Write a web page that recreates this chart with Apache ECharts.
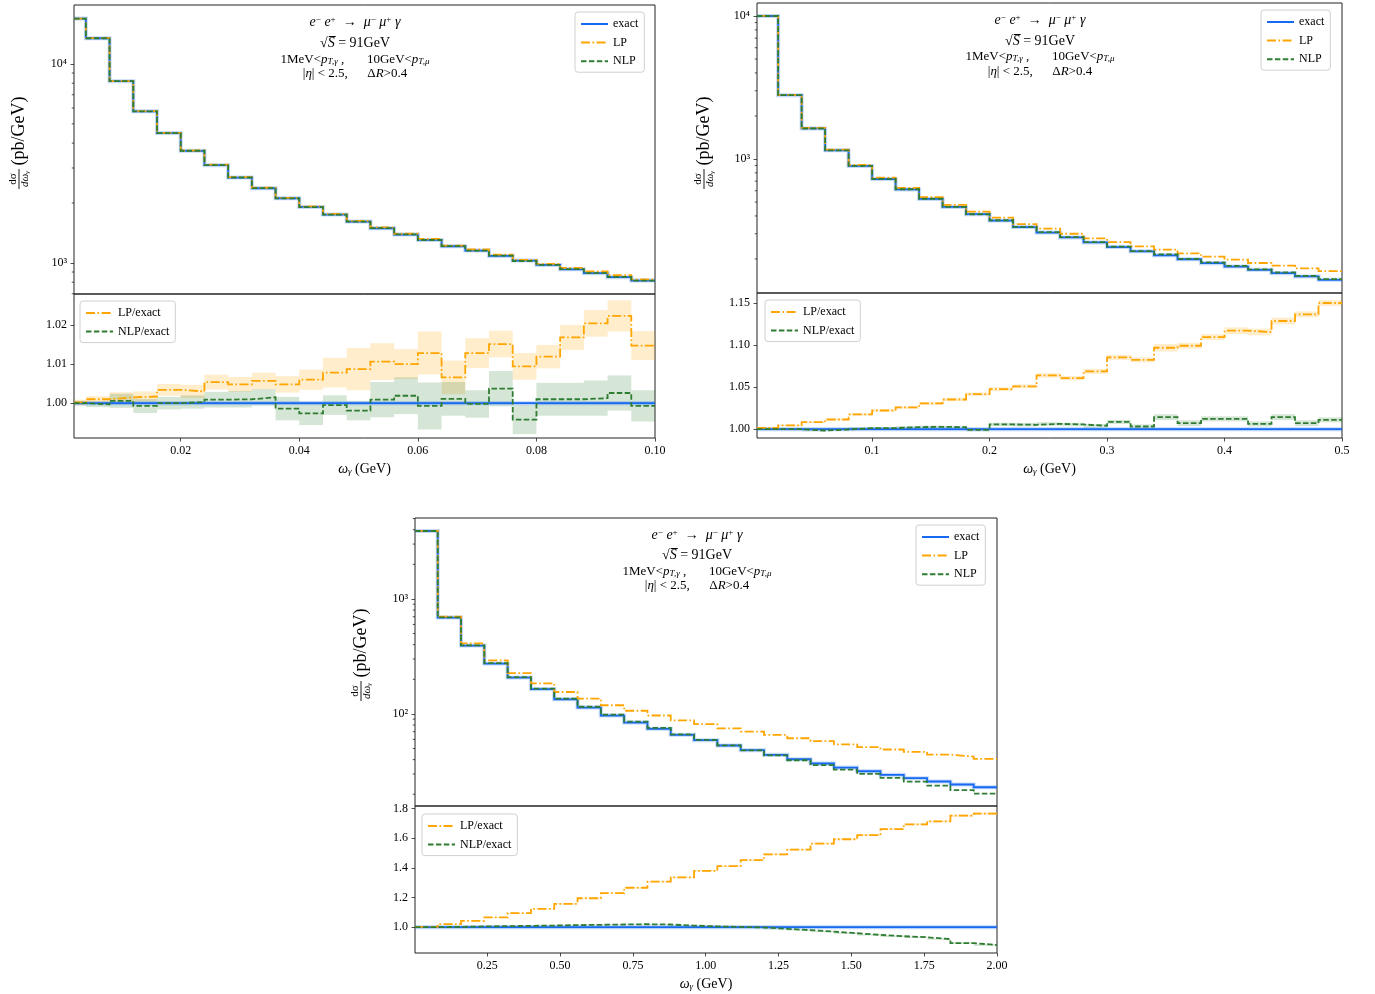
<!DOCTYPE html>
<html><head><meta charset="utf-8">
<script src="https://cdn.jsdelivr.net/npm/echarts@6/dist/echarts.min.js"></script>
<style>html,body{margin:0;padding:0;background:#fff}#c{width:1375px;height:994px}</style>
</head><body><div id="c"></div>
<script>
// ---------------- DATA ----------------
const edges1 = [0.002,0.004,0.008,0.012,0.016,0.02,0.024,0.028,0.032,0.036,0.04,0.044,0.048,0.052,0.056,0.06,0.064,0.068,0.072,0.076,0.08,0.084,0.088,0.092,0.096,0.1];
const edges2 = [0.002,0.02,0.04,0.06,0.08,0.1,0.12,0.14,0.16,0.18,0.2,0.22,0.24,0.26,0.28,0.3,0.32,0.34,0.36,0.38,0.4,0.42,0.44,0.46,0.48,0.5];
const edges3 = [0.002,0.08,0.16,0.24,0.32,0.4,0.48,0.56,0.64,0.72,0.8,0.88,0.96,1.04,1.12,1.2,1.28,1.36,1.44,1.52,1.6,1.68,1.76,1.84,1.92,2.0];

const p1Exact = [16900,13460,8190,5780,4490,3660,3100,2684,2373,2113,1911,1749,1614,1494,1388,1305,1213,1153,1084,1027,977,929,888,848,815];
const p1LPRatio = [1.0002,1.001,1.0015,1.0017,1.0034,1.003,1.0054,1.0048,1.0057,1.0048,1.006,1.0078,1.0087,1.0106,1.010,1.0128,1.0066,1.0128,1.0151,1.0094,1.0119,1.0168,1.0204,1.0223,1.0147];
const p1NLPRatio = [1.0,0.9997,1.0006,0.9993,1.0,1.0003,1.0009,1.001,1.0015,0.9986,0.9974,0.9995,0.9981,1.0009,1.0019,0.9993,1.0011,0.9998,1.0037,0.9958,1.001,1.001,1.0013,1.0026,0.9993];
const p1LPErr = [0.0007,0.0008,0.0013,0.0013,0.0015,0.0017,0.0019,0.0019,0.0021,0.0021,0.0026,0.0038,0.0054,0.0047,0.0038,0.0055,0.0043,0.0038,0.0034,0.0034,0.0030,0.0032,0.0034,0.0040,0.0037];
const p1NLPErr = [0.0006,0.0007,0.0018,0.0018,0.0016,0.0017,0.0020,0.0021,0.0021,0.0030,0.0030,0.0025,0.0025,0.0045,0.0047,0.0060,0.0043,0.0035,0.0045,0.0037,0.0042,0.0042,0.0045,0.0045,0.0040];

const p2Exact = [10000,2796,1637,1150,894,725,613,526,462,411,371,334,306,283,261,242,226,212,199,187,177,168,159,151,143];
const p2LPRatio = [1.0016,1.0044,1.0083,1.0115,1.0175,1.0222,1.0258,1.0306,1.0353,1.0417,1.0476,1.0508,1.0639,1.0607,1.0687,1.0853,1.0825,1.0968,1.0992,1.1095,1.1171,1.1155,1.1286,1.1365,1.15];
const p2NLPRatio = [1.0,1.0,0.9984,0.9996,1.0012,1.0012,1.0024,1.0028,1.0024,0.9992,1.0056,1.0052,1.0063,1.0056,1.004,1.0087,1.0032,1.0143,1.0071,1.0123,1.0123,1.0063,1.0143,1.0071,1.0111];
const p2LPErr = [0.0008,0.001,0.001,0.0012,0.0014,0.0015,0.0016,0.0018,0.002,0.002,0.0022,0.0024,0.0026,0.0026,0.003,0.003,0.003,0.0045,0.0035,0.0035,0.004,0.004,0.004,0.0035,0.0035];
const p2NLPErr = [0.0008,0.001,0.001,0.001,0.0012,0.0013,0.0014,0.0015,0.0016,0.0018,0.002,0.002,0.002,0.002,0.0022,0.0024,0.0025,0.0035,0.0035,0.003,0.003,0.003,0.0035,0.0035,0.003];

const p3Exact = [3900,689,393,274,207,164,134,113.5,96.7,84.1,74.1,65.7,59.1,53.1,48.3,44.0,40.3,37.0,34.1,31.7,29.5,27.6,25.8,24.3,23.0];
const p3LPRatio = [1.002,1.020,1.043,1.066,1.095,1.123,1.157,1.195,1.230,1.266,1.307,1.336,1.380,1.411,1.452,1.491,1.523,1.564,1.593,1.620,1.661,1.693,1.714,1.752,1.766];
const p3NLPRatio = [1.0,1.002,1.005,1.007,1.009,1.011,1.014,1.016,1.018,1.020,1.018,1.011,1.005,1.002,0.998,0.989,0.980,0.970,0.959,0.948,0.939,0.932,0.920,0.893,0.880];
const p3LPErr = [0.001,0.002,0.002,0.003,0.003,0.003,0.004,0.004,0.004,0.004,0.005,0.005,0.005,0.005,0.006,0.006,0.006,0.006,0.006,0.007,0.007,0.007,0.007,0.008,0.008];
const p3NLPErr = [0.001,0.001,0.002,0.002,0.002,0.002,0.003,0.003,0.003,0.003,0.003,0.003,0.004,0.004,0.004,0.004,0.004,0.004,0.005,0.005,0.005,0.005,0.005,0.006,0.006];

// axis ranges and tick values
const p1TopRange = [698, 19770],  p1RatioRange = [0.9911, 1.0279];
const p2TopRange = [115.6, 12330], p2RatioRange = [0.9895, 1.1619];
const p3TopRange = [15.8, 5060],  p3RatioRange = [0.826, 1.817];
const p1XTicks = [0.02,0.04,0.06,0.08,0.10];
const p2XTicks = [0.1,0.2,0.3,0.4,0.5];
const p3XTicks = [0.25,0.5,0.75,1.0,1.25,1.5,1.75,2.0];
const p1RTicks = [1.00,1.01,1.02];
const p2RTicks = [1.00,1.05,1.10,1.15];
const p3RTicks = [1.0,1.2,1.4,1.6,1.8];
const p1Minor = [700,800,900,2000,3000,4000,5000,6000,7000,8000,9000];
const p2Minor = [200,300,400,500,600,700,800,900,2000,3000,4000,5000,6000,7000,8000,9000];
const p3Minor = [20,30,40,50,60,70,80,90,200,300,400,500,600,700,800,900,2000,3000,4000,5000];

// ---------------- STYLE / LAYOUT ----------------
const FONT = '"Liberation Serif", "DejaVu Serif", serif';
const C_EX = '#1669f0', C_LP = '#ffa500', C_NLP = '#2e7d32';
const DASHDOT = [9, 2.5, 1.6, 2.5], DASH = [5.5, 2.4];
const FRAME = '#222';

const layout = [
  {left: 74,  width: 581, top: 5,   hTop: 289, hRat: 144},
  {left: 757, width: 585, top: 3,   hTop: 290, hRat: 145},
  {left: 415, width: 582, top: 518, hTop: 288, hRat: 147}
];

const panels = [
  {edges: edges1, exact: p1Exact, lpR: p1LPRatio, nlpR: p1NLPRatio, lpE: p1LPErr, nlpE: p1NLPErr,
   topRange: p1TopRange, ratRange: p1RatioRange, xTicks: p1XTicks, xDec: 2, rTicks: p1RTicks, rDec: 2, minor: p1Minor},
  {edges: edges2, exact: p2Exact, lpR: p2LPRatio, nlpR: p2NLPRatio, lpE: p2LPErr, nlpE: p2NLPErr,
   topRange: p2TopRange, ratRange: p2RatioRange, xTicks: p2XTicks, xDec: 1, rTicks: p2RTicks, rDec: 2, minor: p2Minor},
  {edges: edges3, exact: p3Exact, lpR: p3LPRatio, nlpR: p3NLPRatio, lpE: p3LPErr, nlpE: p3NLPErr,
   topRange: p3TopRange, ratRange: p3RatioRange, xTicks: p3XTicks, xDec: 2, rTicks: p3RTicks, rDec: 1, minor: p3Minor}
];

function stepData(edges, vals) {
  const d = vals.map((v, i) => [edges[i], v]);
  d.push([edges[edges.length - 1], vals[vals.length - 1]]);
  return d;
}
function line(name, idx, data, color, dash, z, width) {
  return {type: 'line', name, xAxisIndex: idx, yAxisIndex: idx, data, step: 'end',
    symbol: 'none', showSymbol: false, silent: true, animation: false, z,
    lineStyle: {color, width: width || 1.8, type: dash, cap: 'butt', join: 'miter'},
    itemStyle: {color}};
}
function band(idx, edges, vals, err, color) {
  return {type: 'custom', name: 'band', xAxisIndex: idx, yAxisIndex: idx, silent: true, animation: false, z: 1,
    data: vals.map((v, i) => [edges[i], edges[i + 1], v - err[i], v + err[i]]),
    encode: {x: [0, 1], y: [2, 3]},
    renderItem: (params, api) => {
      const p0 = api.coord([api.value(0), api.value(3)]);
      const p1 = api.coord([api.value(1), api.value(2)]);
      return {type: 'rect', shape: {x: p0[0], y: p0[1], width: p1[0] - p0[0], height: p1[1] - p0[1]},
        style: {fill: color}};
    }};
}
function minorTicks(idx, x0, vals) {
  return {type: 'custom', name: 'minor', xAxisIndex: idx, yAxisIndex: idx, silent: true, animation: false,
    clip: false, z: 10, data: vals.map(v => [x0, v]), encode: {x: 0, y: 1},
    renderItem: (params, api) => {
      const p = api.coord([api.value(0), api.value(1)]);
      return {type: 'line', shape: {x1: p[0] - 2.2, y1: p[1], x2: p[0], y2: p[1]},
        style: {stroke: FRAME, lineWidth: 0.8}};
    }};
}

const sup = {'0':'⁰','1':'¹','2':'²','3':'³','4':'⁴','5':'⁵'};
const grids = [], xAxes = [], yAxes = [], series = [];
const labelStyle = {fontFamily: FONT, fontSize: 12, color: '#000'};

panels.forEach((P, k) => {
  const L = layout[k];
  const gt = 2 * k, gr = 2 * k + 1;
  const xmin = P.edges[0], xmax = P.edges[P.edges.length - 1];
  grids.push({left: L.left, top: L.top, width: L.width, height: L.hTop, show: true, borderColor: FRAME, borderWidth: 1, containLabel: false});
  grids.push({left: L.left, top: L.top + L.hTop, width: L.width, height: L.hRat, show: true, borderColor: FRAME, borderWidth: 1, containLabel: false});
  xAxes.push({type: 'value', gridIndex: gt, min: xmin, max: xmax, axisLine: {show: false}, axisTick: {show: false},
    axisLabel: {show: false}, splitLine: {show: false}});
  xAxes.push({type: 'value', gridIndex: gr, min: xmin, max: xmax, axisLine: {show: false},
    axisTick: {show: true, length: 3.5, customValues: P.xTicks, lineStyle: {color: FRAME, width: 0.8}},
    axisLabel: Object.assign({customValues: P.xTicks, margin: 7, formatter: v => v.toFixed(P.xDec)}, labelStyle),
    splitLine: {show: false},
    name: '{i|ω}{s|γ}{n| (GeV)}', nameLocation: 'middle', nameGap: 24,
    nameTextStyle: {rich: {
      i: {fontFamily: FONT, fontStyle: 'italic', fontSize: 14, color: '#000'},
      s: {fontFamily: FONT, fontStyle: 'italic', fontSize: 9, color: '#000', verticalAlign: 'bottom', lineHeight: 9},
      n: {fontFamily: FONT, fontSize: 14, color: '#000'}}}});
  yAxes.push({type: 'log', logBase: 10, gridIndex: gt, min: P.topRange[0], max: P.topRange[1],
    axisLine: {show: false}, splitLine: {show: false},
    axisTick: {show: true, length: 3.5, lineStyle: {color: FRAME, width: 0.8}},
    axisLabel: {showMinLabel: false, showMaxLabel: false, margin: 7,
      formatter: v => '{b|10}{t|' + sup[String(Math.round(Math.log10(v)))] + '}',
      rich: {b: {fontFamily: FONT, fontSize: 12, color: '#000'},
             t: {fontFamily: FONT, fontSize: 12, color: '#000'}}}});
  yAxes.push({type: 'value', gridIndex: gr, min: P.ratRange[0], max: P.ratRange[1],
    axisLine: {show: false}, splitLine: {show: false},
    axisTick: {show: true, length: 3.5, customValues: P.rTicks, lineStyle: {color: FRAME, width: 0.8}},
    axisLabel: Object.assign({customValues: P.rTicks, margin: 7, formatter: v => v.toFixed(P.rDec)}, labelStyle)});

  const lpTop = P.exact.map((v, i) => v * P.lpR[i]);
  const nlpTop = P.exact.map((v, i) => v * P.nlpR[i]);
  series.push(line('exact halo', gt, stepData(P.edges, P.exact), 'rgba(22,105,240,0.25)', 'solid', 2, 4));
  series.push(line('exact', gt, stepData(P.edges, P.exact), C_EX, 'solid', 3));
  series.push(line('LP', gt, stepData(P.edges, lpTop), C_LP, DASHDOT, 4));
  series.push(line('NLP', gt, stepData(P.edges, nlpTop), C_NLP, DASH, 5));
  series.push(minorTicks(gt, xmin, P.minor));

  series.push(band(gr, P.edges, P.lpR, P.lpE, 'rgba(255,165,0,0.2)'));
  series.push(band(gr, P.edges, P.nlpR, P.nlpE, 'rgba(46,125,50,0.2)'));
  const ones = P.exact.map((v, i) => v / P.exact[i]);
  series.push(line('exact halo', gr, stepData(P.edges, ones), 'rgba(22,105,240,0.3)', 'solid', 2, 4));
  series.push(line('exact', gr, stepData(P.edges, ones), C_EX, 'solid', 3));
  series.push(line('LP/exact', gr, stepData(P.edges, P.lpR), C_LP, DASHDOT, 4));
  series.push(line('NLP/exact', gr, stepData(P.edges, P.nlpR), C_NLP, DASH, 5));
});

const legendBase = {orient: 'vertical', itemWidth: 27, itemHeight: 8, itemGap: 4.6, padding: [5, 6, 4, 5],
  backgroundColor: 'rgba(255,255,255,0.85)', borderColor: '#d0d0d0', borderWidth: 1, borderRadius: 3,
  textStyle: {fontFamily: FONT, fontSize: 12, color: '#000', lineHeight: 14}, itemStyle: {opacity: 0},
  selectedMode: false};
const legends = [
  Object.assign({left: 575, top: 12, data: ['exact', 'LP', 'NLP']}, legendBase),
  Object.assign({left: 80, top: 301, data: ['LP/exact', 'NLP/exact']}, legendBase),
  Object.assign({left: 1261, top: 10, data: ['exact', 'LP', 'NLP']}, legendBase),
  Object.assign({left: 765, top: 300, data: ['LP/exact', 'NLP/exact']}, legendBase),
  Object.assign({left: 916, top: 525, data: ['exact', 'LP', 'NLP']}, legendBase),
  Object.assign({left: 422, top: 814, data: ['LP/exact', 'NLP/exact']}, legendBase)
];

// annotation text
const annRich = {
  n: {fontFamily: FONT, fontSize: 13, color: '#000'},
  i: {fontFamily: FONT, fontSize: 13, fontStyle: 'italic', color: '#000'},
  I: {fontFamily: FONT, fontSize: 14, fontStyle: 'italic', color: '#000'},
  N: {fontFamily: FONT, fontSize: 14, color: '#000'},
  p: {fontFamily: FONT, fontSize: 9, color: '#000', verticalAlign: 'top', lineHeight: 9},
  s: {fontFamily: FONT, fontSize: 9, fontStyle: 'italic', color: '#000', verticalAlign: 'bottom', lineHeight: 9},
  r: {fontFamily: FONT, fontSize: 14, color: '#000'}
};
function annotation(cx, ys) {
  const lines = [
    '{I|e}{p|−}{I| e}{p|+}{N|  →  }{I|μ}{p|−}{I| μ}{p|+}{I| γ}',
    '{r|√}{I|S\u0305}{r| = 91GeV}',
    '{n|1MeV<}{i|p}{s|T,γ}{n| ,\u2003\u2002 10GeV<}{i|p}{s|T,μ}',
    '{n||}{i|η}{n|| < 2.5,\u2003\u2002}{n|Δ}{i|R}{n|>0.4}'
  ];
  return lines.map((t, j) => ({type: 'text', x: cx, y: ys[j], silent: true,
    style: {text: t, rich: annRich, align: 'center', verticalAlign: 'middle', fontFamily: FONT, fontSize: 13}}));
}
function yTitle(x, yc) {
  return {type: 'group', x: x, y: yc, rotation: Math.PI / 2, silent: true, children: [
    {type: 'text', x: 9, y: 0, style: {text: '(pb/GeV)', fontFamily: FONT, fontSize: 18, fill: '#000', align: 'center', verticalAlign: 'middle'}},
    {type: 'text', x: -39, y: -6, style: {text: 'dσ', fontFamily: FONT, fontSize: 11, fill: '#000', align: 'center', verticalAlign: 'middle'}},
    {type: 'line', shape: {x1: -49, y1: 0, x2: -29, y2: 0}, style: {stroke: '#000', lineWidth: 0.9}},
    {type: 'text', x: -39, y: 6.5, style: {text: 'dω{s|γ}', fontFamily: FONT, fontSize: 11, fontStyle: 'italic', fill: '#000', align: 'center', verticalAlign: 'middle',
      rich: {s: {fontFamily: FONT, fontSize: 7, fontStyle: 'italic', verticalAlign: 'bottom', lineHeight: 7}}}}
  ]};
}
const graphics = [].concat(
  annotation(355, [22, 43, 60, 74]),
  annotation(1040, [20, 41, 57, 72]),
  annotation(697, [535, 555, 572, 586]),
  [yTitle(19, 140), yTitle(704, 140), yTitle(361, 652)]
);

const chart = echarts.init(document.getElementById('c'), null, {renderer: 'canvas'});
chart.setOption({
  animation: false,
  backgroundColor: '#fff',
  grid: grids, xAxis: xAxes, yAxis: yAxes, series: series,
  legend: legends,
  graphic: graphics
});
</script>
</body></html>
